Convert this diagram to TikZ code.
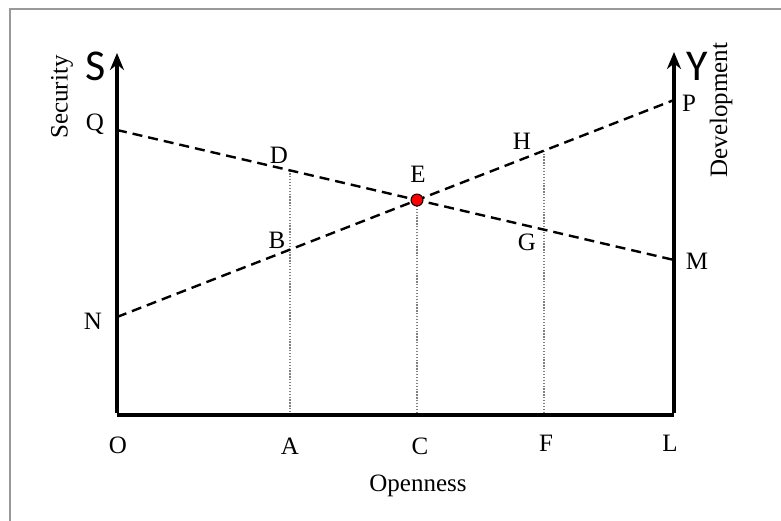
\documentclass[tikz,border=0pt]{standalone}
\usepackage{fontspec}
\setmainfont{Liberation Serif}
\newfontfamily\axfont{Carlito}
\usetikzlibrary{calc,arrows.meta}
\begin{document}
\begin{tikzpicture}[x=1pt,y=-1pt,
  lbl/.style={font=\fontsize{25}{27}\selectfont, inner sep=0pt},
  biglbl/.style={font=\axfont\fontsize{44}{46}\selectfont, inner sep=0pt},
  axis/.style={line width=3.6pt, -{Stealth[length=17pt,width=14pt]}},
  dashline/.style={line width=2.4pt, dash pattern=on 10pt off 6pt},
  dotline/.style={line width=1.3pt, gray, dash pattern=on 1.3pt off 1.6pt}]
\useasboundingbox (0,0) rectangle (781,521);
\draw[line width=1.2pt, gray!80] (10,521) -- (10,9) -- (781,9);
% coordinates
\coordinate (O) at (117,415);
\coordinate (L) at (674,415);
\coordinate (St) at (117,53);
\coordinate (Yt) at (674,52);
\coordinate (Q) at (117,130);
\coordinate (M) at (674,260);
\coordinate (N) at (117,317);
\coordinate (P) at (674,100);
\coordinate (D) at ($(Q)!0.3106!(M)$);
\coordinate (B) at ($(N)!0.3106!(P)$);
\coordinate (E) at ($(Q)!0.5386!(M)$);
\coordinate (H) at ($(N)!0.7666!(P)$);
\coordinate (G) at ($(Q)!0.7666!(M)$);
\coordinate (A) at (D |- O);
\coordinate (C) at (E |- O);
\coordinate (F) at (H |- O);
% dotted drops
\draw[dotline] (D) -- (A);
\draw[dotline] (E) -- (C);
\draw[dotline] (H) -- (F);
% dashed lines
\draw[dashline] (Q) -- (M);
\draw[dashline] (N) -- (P);
% axes
\draw[line width=3.6pt] (L) -- (O);
\draw[axis] ([yshift=1.8pt]O) -- (St);
\draw[axis] ([yshift=1.8pt]L) -- (Yt);
% point E
\node[circle, fill=red, draw=black, line width=1pt, minimum size=12pt, inner sep=0pt] (Edot) at (E) {};
% labels
\node[lbl] (lQ) at (95,124) {Q};
\node[lbl] (lN) at (93,321) {N};
\node[lbl] (lO) at (118,445) {O};
\node[lbl] (lA) at (290,446) {A};
\node[lbl] (lC) at (420,446) {C};
\node[lbl] (lF) at (546,443) {F};
\node[lbl] (lL) at (670,443) {L};
\node[lbl] (lD) at (279,155) {D};
\node[lbl] (lB) at (277,240) {B};
\node[lbl] (lE) at (418,174) {E};
\node[lbl] (lH) at (522,141) {H};
\node[lbl] (lG) at (527,242) {G};
\node[lbl] (lP) at (689,103) {P};
\node[lbl] (lM) at (697,261) {M};
\node[lbl] (lOpen) at (418,486) {Openness};
\node[lbl, rotate=90] (lSec) at (62,97) {Security};
\node[lbl, rotate=90] (lDev) at (721,110) {Development};
\node[biglbl] (lS) at (96,66) {S};
\node[biglbl] (lY) at (697,66) {Y};
\end{tikzpicture}
\end{document}
